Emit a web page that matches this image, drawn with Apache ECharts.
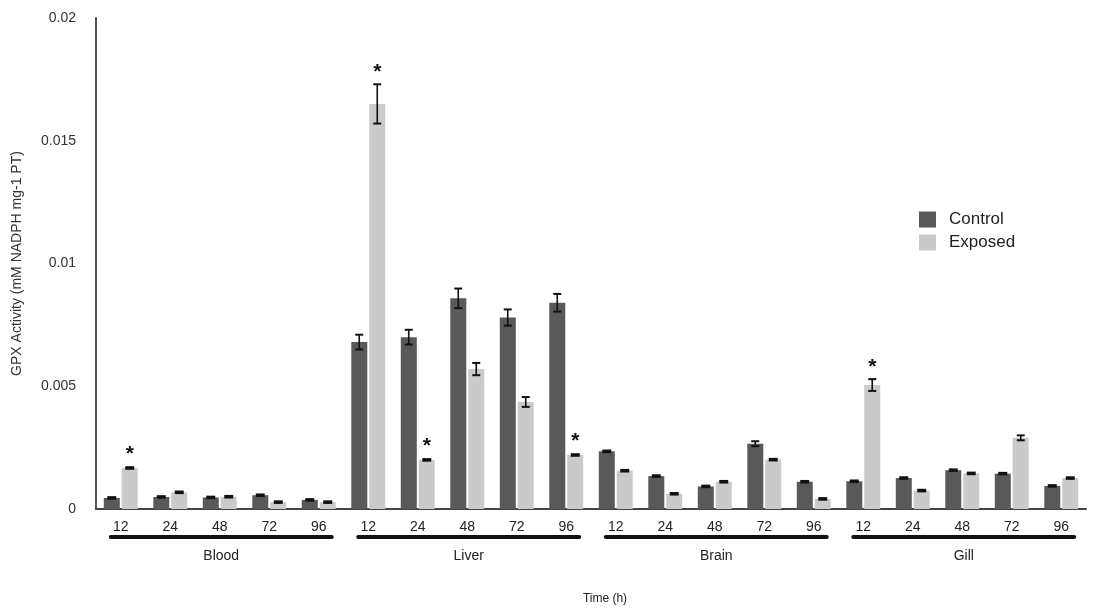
<!DOCTYPE html>
<html>
<head>
<meta charset="utf-8">
<script src="https://cdn.jsdelivr.net/npm/echarts@6/dist/echarts.min.js"></script>
<style>
html,body{margin:0;padding:0;background:#fff;}
#chart{width:1094px;height:613px;}
</style>
</head>
<body>
<div id="chart"></div>
<script>
const groups = ['Blood', 'Liver', 'Brain', 'Gill'];
const hours = ['12', '24', '48', '72', '96'];
const yTicks = [0, 0.005, 0.01, 0.015, 0.02];

const controlValues = [0.00045, 0.00049, 0.00047, 0.00056, 0.00037,
  0.0068, 0.0070, 0.00858, 0.0078, 0.0084,
  0.00235, 0.00134, 0.00092, 0.00266, 0.00111,
  0.00113, 0.00126, 0.00158, 0.00144, 0.00094];
const exposedValues = [0.00167, 0.00068, 0.0005, 0.00028, 0.00028,
  0.0165, 0.0020, 0.0057, 0.00436, 0.0022,
  0.00156, 0.00062, 0.00111, 0.00201, 0.00041,
  0.00505, 0.00075, 0.00145, 0.0029, 0.00126];
const controlErr = [0.00004, 0.00004, 0.00004, 0.00005, 0.00004,
  0.0003, 0.0003, 0.0004, 0.00033, 0.00036,
  0.00005, 0.00004, 0.00004, 0.0001, 0.00004,
  0.00004, 0.00004, 0.00004, 0.00004, 0.00004];
const exposedErr = [0.00004, 0.00004, 0.00004, 0.00004, 0.00004,
  0.0008, 0.00005, 0.00025, 0.0002, 0.00005,
  0.00004, 0.00004, 0.00004, 0.00006, 0.00004,
  0.00024, 0.00004, 0.00004, 0.0001, 0.00004];
const significant = [1, 0, 0, 0, 0, 1, 1, 0, 0, 1, 0, 0, 0, 0, 0, 1, 0, 0, 0, 0];

const categories = [];
groups.forEach(g => hours.forEach(h => categories.push(g + '-' + h)));

const FONT = '"Liberation Sans", Arial, Helvetica, sans-serif';
const BAR_W = 16;
const OFFSET = 9;

function errorRender(offset, errs, sig) {
  return function (params, api) {
    const idx = api.value(0);
    const v = api.value(1);
    const e = errs[params.dataIndex];
    const c = api.coord([idx, v]);
    const x = c[0] + offset;
    let top = api.coord([idx, v + e])[1];
    let bot = api.coord([idx, v - e])[1];
    const children = [];
    if (bot - top < 4) {
      const m = (top + bot) / 2; top = m - 1.8; bot = m + 1.8;
      children.push({ type: 'rect', shape: { x: x - 4.5, y: top, width: 9, height: bot - top },
        style: { fill: '#111' } });
    } else {
      children.push(
        { type: 'line', shape: { x1: x, y1: top, x2: x, y2: bot }, style: { stroke: '#111', lineWidth: 1.6 } },
        { type: 'line', shape: { x1: x - 4, y1: top, x2: x + 4, y2: top }, style: { stroke: '#111', lineWidth: 2 } },
        { type: 'line', shape: { x1: x - 4, y1: bot, x2: x + 4, y2: bot }, style: { stroke: '#111', lineWidth: 2 } }
      );
    }
    if (sig && sig[params.dataIndex]) {
      children.push({
        type: 'text',
        style: { text: '*', x: x, y: top - 12, align: 'center', verticalAlign: 'middle',
          font: 'bold 21px ' + FONT, fill: '#111' }
      });
    }
    return { type: 'group', children: children };
  };
}

const groupData = groups.map((g, i) => [i * hours.length, 0, i * hours.length + hours.length - 1]);

const option = {
  animation: false,
  backgroundColor: '#fff',
  textStyle: { fontFamily: FONT },
  grid: { left: 96, right: 8, top: 18, bottom: 104, containLabel: false },
  legend: {
    data: ['Control', 'Exposed'],
    orient: 'vertical',
    left: 919, top: 211, padding: 0,
    itemWidth: 17, itemHeight: 16, itemGap: 6,
    icon: 'rect',
    textStyle: { fontSize: 17, color: '#222', fontFamily: FONT, padding: [0, 0, 0, 8] }
  },
  xAxis: {
    type: 'category',
    data: categories,
    axisLine: { lineStyle: { color: '#444', width: 2 } },
    axisTick: { show: false },
    axisLabel: { formatter: v => v.split('-')[1], fontSize: 14, color: '#222', margin: 11, interval: 0 },
    name: 'Time (h)', nameLocation: 'middle', nameGap: 84,
    nameTextStyle: { fontSize: 12, color: '#222', padding: [0, 0, 0, 28] }
  },
  yAxis: {
    type: 'value', min: 0, max: 0.02, interval: 0.005,
    splitLine: { show: false },
    axisLine: { show: true, lineStyle: { color: '#555', width: 2 } },
    axisTick: { show: false },
    axisLabel: { fontSize: 14, color: '#333', margin: 20,
      formatter: v => { const t = yTicks.find(y => Math.abs(y - v) < 1e-9); return t === undefined ? '' : String(t); } },
    name: 'GPX Activity (mM NADPH mg-1 PT)', nameLocation: 'middle', nameGap: 72,
    nameTextStyle: { fontSize: 14, color: '#333' }
  },
  series: [
    { name: 'Control', type: 'bar', data: controlValues, barWidth: BAR_W, barGap: '12%',
      itemStyle: { color: '#595959' } },
    { name: 'Exposed', type: 'bar', data: exposedValues, barWidth: BAR_W,
      itemStyle: { color: '#cacaca' } },
    { type: 'custom', z: 5, renderItem: errorRender(-OFFSET, controlErr, null),
      data: controlValues.map((v, i) => [i, v]), encode: { x: 0, y: 1 } },
    { type: 'custom', z: 5, renderItem: errorRender(OFFSET, exposedErr, significant),
      data: exposedValues.map((v, i) => [i, v]), encode: { x: 0, y: 1 } },
    { type: 'custom', z: 5, clip: false,
      renderItem: function (params, api) {
        const s = api.coord([api.value(0), 0]);
        const e = api.coord([api.value(2), 0]);
        const x1 = s[0] - 10, x2 = e[0] + 13;
        const y = s[1] + 28;
        return { type: 'group', children: [
          { type: 'line', shape: { x1: x1, y1: y, x2: x2, y2: y },
            style: { stroke: '#111', lineWidth: 4, lineCap: 'round' } },
          { type: 'text', style: { text: groups[params.dataIndex], x: (x1 + x2) / 2, y: y + 19,
            align: 'center', verticalAlign: 'middle', font: '14px ' + FONT, fill: '#222' } }
        ] };
      },
      data: groupData, encode: { x: 0, y: 1 } }
  ]
};

const chart = echarts.init(document.getElementById('chart'), null, { renderer: 'canvas' });
chart.setOption(option);
</script>
</body>
</html>
